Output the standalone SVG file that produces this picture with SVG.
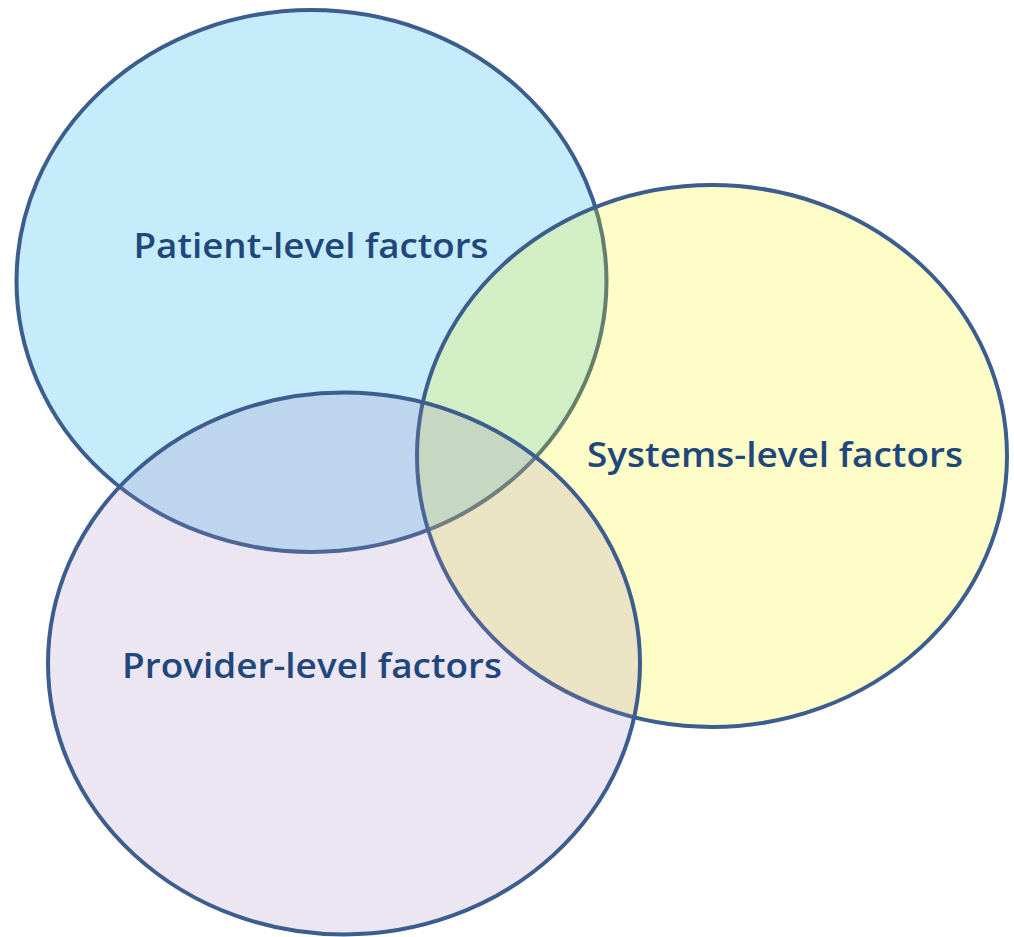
<svg xmlns="http://www.w3.org/2000/svg" width="1014" height="937" viewBox="0 0 1014 937">
  <style>
    .ring { stroke: #3b5e8e; stroke-width: 4; }
    .label { font-family: "Open Sans", Lato, "Liberation Sans", sans-serif; font-weight: 600; font-size: 34px; fill: #1f477c; text-anchor: middle; }
  </style>
  <rect width="1014" height="937" fill="#ffffff"/>
  <g id="patient">
    <ellipse class="ring" cx="311.5" cy="281" rx="295" ry="271" fill="#c6ecfb"/>
    <text class="label" x="311" y="258" textLength="355" lengthAdjust="spacingAndGlyphs">Patient-level factors</text>
  </g>
  <g id="systems">
    <ellipse class="ring" cx="712" cy="456" rx="295" ry="271" fill="rgb(250,246,0)" fill-opacity="0.22"/>
    <text class="label" x="775" y="467" textLength="376" lengthAdjust="spacingAndGlyphs">Systems-level factors</text>
  </g>
  <g id="provider">
    <ellipse class="ring" cx="344" cy="663.5" rx="296" ry="271" fill="rgb(155,130,190)" fill-opacity="0.2"/>
    <text class="label" x="312" y="678" textLength="380" lengthAdjust="spacingAndGlyphs">Provider-level factors</text>
  </g>
  <g id="connectors"/>
</svg>
